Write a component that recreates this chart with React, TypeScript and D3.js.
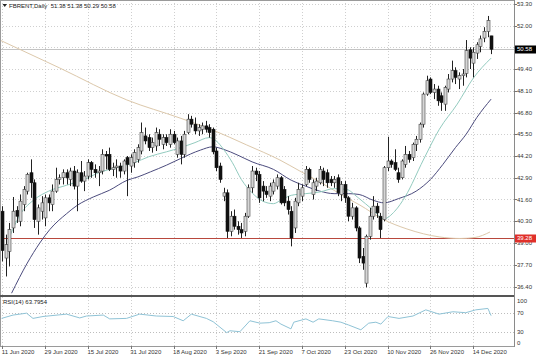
import React from 'react';
import * as d3 from 'd3';

// ---- data ----
const dateLabels = ['11 Jun 2020','29 Jun 2020','15 Jul 2020','31 Jul 2020','18 Aug 2020','3 Sep 2020','21 Sep 2020','7 Oct 2020','23 Oct 2020','10 Nov 2020','26 Nov 2020','14 Dec 2020'];
const dateLabelBars = [0,12,24,36,48,60,72,84,96,108,120,132];

const opens = [40.90,38.10,38.50,39.90,40.95,40.30,41.30,42.10,43.20,42.60,40.30,40.90,40.50,41.70,41.30,42.10,42.80,42.90,43.20,42.80,
43.30,42.40,43.20,42.70,43.00,43.80,43.40,43.20,43.30,44.30,44.30,43.40,43.50,43.60,43.30,44.10,43.60,43.80,44.00,44.50,
45.40,45.30,44.70,44.80,45.50,44.90,45.30,44.90,45.50,44.30,45.10,44.30,45.60,46.40,46.10,45.70,45.80,46.00,45.90,45.80,
44.50,43.60,41.80,42.00,39.70,40.60,40.00,39.80,39.70,40.60,42.30,43.30,43.10,42.40,42.10,41.80,42.10,42.40,42.90,42.20,
41.50,40.90,39.90,41.40,41.80,42.50,43.40,41.90,42.40,42.60,43.30,43.20,42.80,42.60,42.90,41.90,42.50,41.70,40.60,41.10,
39.90,38.20,36.60,39.40,40.60,41.20,40.60,40.40,43.50,43.90,43.80,43.20,42.90,43.70,44.30,44.10,44.90,45.20,46.10,47.90,
48.80,48.00,48.20,47.80,47.30,48.20,48.80,49.30,48.80,49.00,49.14,50.55,49.75,50.35,50.75,51.25,51.65,51.38];
const highs = [41.20,39.50,40.20,41.75,41.20,41.90,42.40,43.20,44.00,42.80,41.30,41.80,41.90,41.90,42.50,43.50,43.10,43.40,43.40,43.50,
43.60,43.40,43.90,43.30,44.00,43.90,43.70,43.60,44.60,44.50,44.70,43.80,44.00,43.80,44.00,44.20,44.30,44.60,44.90,46.20,
45.90,45.50,45.30,45.90,45.80,45.50,45.50,45.80,45.70,45.30,45.40,45.70,46.70,46.60,46.50,46.10,46.20,46.30,46.10,45.90,
44.70,43.80,42.30,42.20,40.90,41.00,40.30,40.20,40.80,42.50,43.60,43.50,43.30,42.70,42.40,42.60,42.80,43.10,43.00,42.40,
41.80,41.20,41.70,42.60,42.50,43.60,43.50,42.80,42.90,43.60,43.50,43.40,43.00,43.00,43.10,42.70,42.70,41.80,41.40,41.20,
40.00,38.70,39.50,41.10,41.80,41.40,40.80,43.60,45.35,44.00,44.60,43.50,44.00,44.80,44.50,45.00,45.40,46.20,48.00,49.00,
48.90,48.50,48.40,48.00,48.40,49.10,49.90,49.50,49.20,49.40,51.13,50.70,50.70,51.00,51.40,51.90,52.57,51.38];
const lows = [37.90,37.00,37.60,39.60,40.20,40.00,40.90,41.90,41.70,39.90,39.50,40.40,40.00,40.90,40.90,42.00,42.50,42.50,42.50,42.40,
42.20,40.90,42.60,42.10,42.80,42.90,42.90,42.40,43.10,43.40,43.30,43.00,42.90,42.90,43.10,41.80,43.20,43.50,43.80,44.30,
44.90,44.50,44.40,44.50,44.80,44.60,44.80,44.70,44.90,44.10,43.70,44.10,45.50,45.90,45.50,45.40,45.50,45.60,45.30,44.30,
43.30,42.60,41.50,39.30,39.40,39.80,39.50,39.30,39.40,40.50,42.00,42.70,41.40,41.50,41.70,41.50,41.90,42.20,41.30,41.20,
40.70,38.80,39.60,41.20,41.50,42.40,42.60,41.60,42.10,42.50,42.40,42.30,42.40,42.30,41.80,41.50,41.40,40.30,40.40,39.70,
37.80,37.40,36.35,39.20,40.40,40.50,39.30,40.30,43.30,43.50,43.30,42.60,42.80,43.50,43.80,43.90,44.50,45.00,45.90,47.80,
47.90,47.60,47.20,46.90,46.90,48.00,48.60,48.50,48.20,48.40,48.90,49.40,48.90,50.00,50.40,51.00,51.30,50.29];
const closes = [38.55,38.90,39.80,40.90,40.60,41.50,42.20,43.10,42.60,40.40,41.10,41.40,41.70,41.40,42.10,42.80,42.90,43.20,42.90,43.30,
42.40,43.20,42.70,43.00,43.80,43.40,43.20,43.30,44.30,44.20,43.40,43.50,43.60,43.30,43.90,43.70,44.10,44.40,44.70,45.60,
45.10,44.70,45.00,45.60,45.20,45.30,45.00,45.50,45.00,45.10,44.30,45.50,46.40,46.10,45.70,45.90,46.00,45.80,45.60,44.45,
43.50,42.80,42.00,39.70,40.60,40.00,39.80,39.60,40.60,42.30,43.30,43.10,41.70,42.10,41.90,42.40,42.60,42.90,41.40,41.40,
41.00,39.30,41.50,42.20,42.30,43.40,42.80,42.60,42.70,43.40,42.80,42.60,42.60,42.80,42.00,42.50,41.70,40.60,41.10,39.90,
38.10,37.80,39.40,40.60,41.20,40.80,39.80,43.50,43.90,43.70,43.40,42.80,43.90,44.30,44.00,44.90,45.20,46.10,47.90,48.70,
48.00,48.20,47.50,47.40,48.30,48.80,49.30,48.90,49.00,49.10,50.50,50.05,50.40,50.85,51.20,51.65,52.30,50.58];

// moving averages (bar position, value)
const fastMaBars = [1.7,5,9,13,18,23,27,32,37,41,46,50,54,58,60,62,64.5,67,70,73,76,78,81,85,89,93,96.5,99.5,104,107,110,113,118,122.5,127.5,132,137];
const fastMaValues = [39.2,40.7,41.6,42.1,42.45,42.8,43.2,43.5,43.8,44.15,44.45,44.7,45.0,45.3,45.1,44.6,43.8,42.8,42.0,41.5,41.35,41.55,41.85,41.95,42.05,42.25,42.2,41.75,40.95,40.45,40.9,41.8,43.96,45.8,47.3,48.85,50.05];
const slowMaBars = [2.6,7,10.5,13.3,18,21,25.5,30,35,38,41.5,46,50,55.5,59,62,66,70,76,81,85,89,93,97,100,104,107,111,116,120,123.5,127,130,133,137];
const slowMaValues = [36.0,37.8,39.0,39.8,40.75,41.25,41.75,42.15,42.75,42.95,43.25,43.65,44.05,44.55,44.75,44.6,44.25,43.85,43.4,42.75,42.4,42.1,41.95,41.95,41.9,41.55,41.4,41.65,42.1,42.8,43.7,44.7,45.5,46.5,47.6];
const longMaBars = [-0.7,16.1,34.9,49.8,59,68.5,77.8,83.4,89,96.6,100.2,106.7,113.4,122.6,128.3,132.5,136.7];
const longMaValues = [51.13,49.46,47.55,46.47,45.75,44.86,43.96,43.3,42.65,41.69,41.27,40.42,39.84,39.36,39.27,39.33,39.66];

const rsiBars = [-0.2,3,6.8,8.6,11.4,18,21.7,23.6,28.3,30.1,34.8,38.5,43.2,47.9,50.7,53,57.2,59.1,62.9,63.8,66.6,69.4,72.2,74.8,76.7,78.1,80.9,81.7,85.1,87.1,88.7,92.6,94.9,97.1,100.5,102.7,104.7,106.1,108.1,111.2,115.1,118.7,122.4,126.3,129.9,132.7,136.1,137];
const rsiValues = [58,65,69,58,62,67,59,63,65,57,58,67,63,62,53,67,58,51,28,32,30,53,48,49,53,46,36,50,57,50,57,53,50,44,34,48,50,46,62,58,63,76,67,72,70,76,79,63.8];

const priceTicks = d3.range(14).map(k => Math.round((36.4 + k * 1.3) * 100) / 100);
const rsiTicks = [100, 70, 30, 0];
const supportLevel = 39.28;
const lastPrice = 50.58;
const titleText = 'FBRENT,Daily  51.38 51.38 50.29 50.58';
const rsiText = 'RSI(14) 63.7954';

const FONT = 'Liberation Sans, Arial, sans-serif';

export default function App() {
  const W = 536, H = 357;
  const axisX = 514;
  const mainTop = 0, mainBottom = 295;
  const rsiTop = 297, rsiBottom = 346;

  const x = d3.scaleLinear().domain([0, 137]).range([2.3, 491.1]);
  const y = d3.scaleLinear().domain([36.4, 52.0]).range([286.5, 25.5]);
  const yr = d3.scaleLinear().domain([0, 100]).range([345.95, 298.45]);

  const maLine = d3.line<[number, number]>().x(d => x(d[0])).y(d => y(d[1])).curve(d3.curveMonotoneX);
  const rsiLine = d3.line<[number, number]>().x(d => x(d[0])).y(d => yr(d[1]));

  const fast = maLine(fastMaBars.map((b, i) => [b, fastMaValues[i]]));
  const slow = maLine(slowMaBars.map((b, i) => [b, slowMaValues[i]]));
  const long = maLine(longMaBars.map((b, i) => [b, longMaValues[i]]));
  const rsiPath = rsiLine(rsiBars.map((b, i) => [b, rsiValues[i]]));

  const gridColor = '#cfcfcf';
  const textColor = '#333';

  // tick labels hidden behind the current-price marker
  const visiblePriceLabels = priceTicks.filter(p => Math.abs(y(p) - y(lastPrice)) > 6);

  return (
    <svg width={W} height={H} style={{ position: 'fixed', left: 0, top: 0, display: 'block', background: '#fff' }}>
      <defs>
        <clipPath id="mainClip"><rect x={0} y={mainTop} width={axisX} height={mainBottom - mainTop} /></clipPath>
        <clipPath id="rsiClip"><rect x={0} y={rsiTop} width={axisX} height={rsiBottom - rsiTop} /></clipPath>
      </defs>
      <rect x={0} y={0} width={W} height={H} fill="#fff" />

      {/* grid main */}
      {priceTicks.map(p => (
        <line key={'hg' + p} x1={0} x2={axisX} y1={Math.round(y(p)) + 0.5} y2={Math.round(y(p)) + 0.5} stroke={gridColor} strokeDasharray="1,2" />
      ))}
      {dateLabelBars.map(b => (
        <g key={'vg' + b}>
          <line x1={Math.round(x(b)) + 0.5} x2={Math.round(x(b)) + 0.5} y1={mainTop} y2={mainBottom} stroke={gridColor} strokeDasharray="1,2" />
          <line x1={Math.round(x(b)) + 0.5} x2={Math.round(x(b)) + 0.5} y1={rsiTop} y2={rsiBottom} stroke={gridColor} strokeDasharray="1,2" />
        </g>
      ))}
      {/* rsi levels */}
      {[70, 30].map(v => (
        <line key={'rl' + v} x1={0} x2={axisX} y1={Math.round(yr(v)) + 0.5} y2={Math.round(yr(v)) + 0.5} stroke="#bdbdbd" strokeDasharray="1,2" />
      ))}

      {/* bid line and support line */}
      <line x1={0} x2={axisX} y1={Math.round(y(lastPrice)) + 0.5} y2={Math.round(y(lastPrice)) + 0.5} stroke="#c4c4c4" />
      <line x1={0} x2={axisX} y1={Math.round(y(supportLevel)) + 0.5} y2={Math.round(y(supportLevel)) + 0.5} stroke="#b8473d" />

      <g clipPath="url(#mainClip)">
        <path d={long || ''} fill="none" stroke="#dcc8ab" strokeWidth={1} />
        <path d={slow || ''} fill="none" stroke="#4b4b7d" strokeWidth={1} />
        <path d={fast || ''} fill="none" stroke="#93cbbf" strokeWidth={1} />

        {closes.map((c, i) => {
          const o = opens[i], h = highs[i], l = lows[i];
          const cx = Math.round(x(i));
          const bull = c >= o;
          const top = y(Math.max(o, c));
          const bot = y(Math.min(o, c));
          const bh = Math.max(1, bot - top);
          return (
            <g key={'c' + i}>
              <line x1={cx + 0.5} x2={cx + 0.5} y1={y(h)} y2={y(l)} stroke="#222" strokeWidth={1} />
              <rect x={cx - 1} y={top} width={3} height={bh}
                fill={bull ? '#d6d6d6' : '#111'} stroke={bull ? '#444' : '#111'} strokeWidth={0.6} />
            </g>
          );
        })}
      </g>

      <g clipPath="url(#rsiClip)">
        <path d={rsiPath || ''} fill="none" stroke="#8fc3d6" strokeWidth={1} />
      </g>

      {/* frames */}
      <line x1={0} x2={axisX} y1={0.5} y2={0.5} stroke="#9a9a9a" />
      <line x1={0.5} x2={0.5} y1={0} y2={rsiBottom} stroke="#9a9a9a" />
      <line x1={0} x2={axisX} y1={mainBottom + 1} y2={mainBottom + 1} stroke="#555" strokeWidth={2} />
      <line x1={0} x2={axisX} y1={rsiBottom + 0.5} y2={rsiBottom + 0.5} stroke="#9a9a9a" />
      <line x1={axisX + 0.5} x2={axisX + 0.5} y1={0} y2={rsiBottom + 1} stroke="#8a8a8a" />

      {/* price axis */}
      {priceTicks.map(p => (
        <line key={'ptk' + p} x1={axisX} x2={axisX + 3} y1={Math.round(y(p)) + 0.5} y2={Math.round(y(p)) + 0.5} stroke="#777" />
      ))}
      {visiblePriceLabels.map(p => (
        <text key={'pt' + p} x={axisX + 3} y={y(p)} dy="0.35em" fontSize={6} fontFamily={FONT} fill={textColor}>{p.toFixed(2)}</text>
      ))}
      {/* rsi axis */}
      {rsiTicks.map(v => (
        <text key={'rt' + v} x={axisX + 3} y={Math.max(300.5, Math.min(343, yr(v)))} dy="0.35em" fontSize={6} fontFamily={FONT} fill={textColor}>{v}</text>
      ))}

      {/* current price label */}
      <rect x={axisX + 1} y={Math.round(y(lastPrice)) - 3.5} width={21} height={8} fill="#000" />
      <text x={axisX + 3} y={y(lastPrice)} dy="0.35em" fontSize={6} fontFamily={FONT} fill="#fff">{lastPrice.toFixed(2)}</text>
      <rect x={axisX + 1} y={Math.round(y(supportLevel)) - 3.5} width={21} height={8} fill="#e0302a" />
      <text x={axisX + 3} y={y(supportLevel)} dy="0.35em" fontSize={6} fontFamily={FONT} fill="#fff">{supportLevel.toFixed(2)}</text>

      {/* date axis */}
      {dateLabelBars.map((b, i) => (
        <g key={'dl' + b}>
          <line x1={Math.round(x(b)) + 0.5} x2={Math.round(x(b)) + 0.5} y1={rsiBottom} y2={rsiBottom + 3} stroke="#777" />
          <text x={x(b) - 0.5} y={354} fontSize={6} fontFamily={FONT} fill={textColor}>{dateLabels[i]}</text>
        </g>
      ))}

      {/* titles */}
      <path d="M2.5,4 L7,4 L4.75,7 Z" fill="#222" />
      <text x={9} y={8} fontSize={6} fontFamily={FONT} fill="#222" style={{ whiteSpace: 'pre' }}>{titleText}</text>
      <text x={3} y={304} fontSize={6} fontFamily={FONT} fill="#222">{rsiText}</text>
    </svg>
  );
}
